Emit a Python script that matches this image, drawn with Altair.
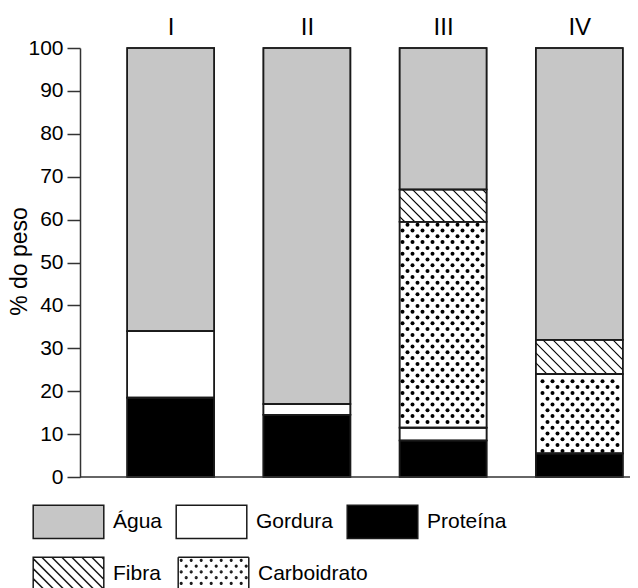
import altair as alt
import pandas as pd

# ---------------- data ----------------
categorias = ["I", "II", "III", "IV"]
nutrientes = ["Água", "Gordura", "Proteína", "Fibra", "Carboidrato"]
proteina = [18.5, 14.5, 8.5, 5.5]
gordura = [15.5, 2.5, 3.0, 0.0]
carboidrato = [0.0, 0.0, 48.0, 18.5]
fibra = [0.0, 0.0, 7.5, 8.0]
agua = [66.0, 83.0, 33.0, 68.0]
y_ticks = [0, 10, 20, 30, 40, 50, 60, 70, 80, 90, 100]

# ---------------- layout / style ----------------
W, H = 550, 429
STEP = 136.2            # px per category slot
OFF = 47.2 / STEP       # left gap of a bar inside its slot
BW = 87.0 / STEP        # bar width in slot units
XMAX = W / STEP
PXY = H / 100.0
FONT = "Liberation Sans, Arial, sans-serif"
INK = "#1a1a1a"
GRAY = "#c6c6c6"
DX, DY, DM = 10.0, 5.8, 1.8     # dot texture spacing (px)
SP = 10.0                        # hatch spacing (px)

stack_order = [("Proteína", proteina), ("Gordura", gordura),
               ("Carboidrato", carboidrato), ("Fibra", fibra), ("Água", agua)]
rows = []
for i, cat in enumerate(categorias):
    base = 0.0
    for nome, vals in stack_order:
        v = vals[i]
        if v > 0:
            rows.append(dict(cat=cat, Nutriente=nome, x0=i + OFF, x1=i + OFF + BW,
                             y0=base, y1=base + v))
        base += v
seg = pd.DataFrame(rows)

# dot texture for Carboidrato
dots = []
for r in seg[seg.Nutriente == "Carboidrato"].itertuples():
    X0, X1, Y0, Y1 = r.x0 * STEP, r.x1 * STEP, r.y0 * PXY, r.y1 * PXY
    for k in range(int(Y0 / DY) - 1, int(Y1 / DY) + 2):
        Y = k * DY + DY / 2
        if Y < Y0 + DM or Y > Y1 - DM:
            continue
        sh = DX / 2 if k % 2 else 0.0
        for j in range(int(X0 / DX) - 1, int(X1 / DX) + 2):
            X = j * DX + sh + 2.5
            if X0 + DM <= X <= X1 - DM:
                dots.append(dict(x=X / STEP, y=Y / PXY))
dots_df = pd.DataFrame(dots)

# hatch texture for Fibra ("\" lines: X + Yup = c)
lines = []
for r in seg[seg.Nutriente == "Fibra"].itertuples():
    X0, X1, Y0, Y1 = r.x0 * STEP, r.x1 * STEP, r.y0 * PXY, r.y1 * PXY
    for k in range(int((X0 + Y0) / SP) - 1, int((X1 + Y1) / SP) + 2):
        c = k * SP
        ya = max(Y0, c - X1)
        yb = min(Y1, c - X0)
        if yb - ya > 0.5:
            lines.append(dict(x=(c - ya) / STEP, y=ya / PXY, x2=(c - yb) / STEP, y2=yb / PXY))
lines_df = pd.DataFrame(lines)

# legend symbol paths (unit box [-1,1], y down)
LH = 33.3 / 70.6
U = 35.3  # px per path unit
RECT = f"M-1,{-LH:.4f}H1V{LH:.4f}H-1Z"
hp = RECT
for k in range(-30, 31):
    c = k * SP / U
    ya = max(-LH, -1 - c)
    yb = min(LH, 1 - c)
    if yb - ya > 0.01:
        hp += f"M{ya + c:.4f},{ya:.4f}L{yb + c:.4f},{yb:.4f}"
HATCH = hp
dp = (f"M-1,{-LH:.4f}L1,{-LH:.4f}M1,{-LH:.4f}L1,{LH:.4f}"
      f"M1,{LH:.4f}L-1,{LH:.4f}M-1,{LH:.4f}L-1,{-LH:.4f}")
rr = 0.8 / U
k = 0
yy = -LH + 3.0 / U
while yy < LH - 2.0 / U:
    xx = -1 + (3.0 + (DX / 2 if k % 2 else 0.0)) / U
    while xx < 1 - 2.0 / U:
        dp += f"M{xx - rr:.4f},{yy:.4f}a{rr:.4f},{rr:.4f} 0 1,0 {2 * rr:.4f},0a{rr:.4f},{rr:.4f} 0 1,0 {-2 * rr:.4f},0"
        xx += DX / U
    yy += DY / U
    k += 1
DOTS = dp

fill_range = [GRAY, "#ffffff", "#000000", "#ffffff", "#ffffff"]
padrao = ["Fibra", "Carboidrato"]
shape_range = [HATCH, DOTS]

centers = [i + OFF + BW / 2 for i in range(len(categorias))]
cat_js = "[" + ",".join(f"'{c}'" for c in categorias) + "]"

xscale = alt.Scale(domain=[0, XMAX], nice=False, zero=False)
yscale = alt.Scale(domain=[0, 100], nice=False)
fill_scale = alt.Scale(domain=nutrientes, range=fill_range)
stroke_scale1 = alt.Scale(domain=nutrientes, range=[INK] * len(nutrientes))
shape_scale = alt.Scale(domain=padrao, range=shape_range)
stroke_scale2 = alt.Scale(domain=padrao, range=[INK] * len(padrao))

x_axis = alt.Axis(orient="top", values=centers,
                  labelExpr=f"{cat_js}[round(datum.value - {OFF + BW / 2:.5f})]",
                  domain=False, ticks=False, grid=False, labelFont=FONT, labelFontSize=24,
                  labelPadding=9, labelColor="black", title=None)
y_axis = alt.Axis(values=y_ticks, tickSize=13, tickWidth=1.5, tickColor="#333333",
                  domainColor="#333333", domainWidth=1.5, labelFont=FONT, labelFontSize=21,
                  labelColor="black", labelPadding=4, grid=False, title="% do peso",
                  titleFont=FONT, titleFontSize=23, titleFontWeight="normal",
                  titleColor="black", titleX=-54, titleY=213, titleBaseline="alphabetic")

leg_row1 = alt.Legend(title=None, orient="none", legendX=-48, legendY=437,
                      direction="horizontal", values=nutrientes[:3], symbolType=RECT,
                      symbolSize=70.6 * 70.6, symbolStrokeWidth=1.5, symbolOpacity=1,
                      labelFont=FONT, labelFontSize=21, labelColor="black",
                      labelOffset=8, columnPadding=10)
leg_row2 = alt.Legend(title=None, orient="none", legendX=-48, legendY=489,
                      direction="horizontal",
                      symbolSize=70.6 * 70.6, symbolStrokeWidth=1.5, symbolOpacity=1,
                      labelFont=FONT, labelFontSize=21, labelColor="black",
                      labelOffset=8, columnPadding=14)

bars = alt.Chart(seg).mark_rect(strokeWidth=1.5).encode(
    x=alt.X("x0:Q", scale=xscale, axis=x_axis),
    x2="x1:Q",
    y=alt.Y("y0:Q", scale=yscale, axis=y_axis),
    y2="y1:Q",
    fill=alt.Fill("Nutriente:N", scale=fill_scale, legend=leg_row1),
    stroke=alt.Stroke("Nutriente:N", scale=stroke_scale1, legend=leg_row1),
)

dot_layer = alt.Chart(dots_df).mark_circle(size=16, opacity=1, color="black").encode(
    x="x:Q", y="y:Q")

hatch_layer = alt.Chart(lines_df).mark_rule(strokeWidth=1.1, color="black").encode(
    x="x:Q", x2="x2:Q", y="y:Q", y2="y2:Q")

outline = alt.Chart(seg).mark_rect(fill="transparent", stroke=INK, strokeWidth=1.6).encode(
    x="x0:Q", x2="x1:Q", y="y0:Q", y2="y1:Q")

base_line = alt.Chart(pd.DataFrame({"v": [0]})).mark_rule(color="#333333", strokeWidth=1.5).encode(
    y=alt.Y("v:Q"))

carrier = alt.Chart(pd.DataFrame({"Padrao": padrao})).mark_point(
    filled=True, fill="white", opacity=1, strokeWidth=1.5).encode(
    x=alt.value(-3000), y=alt.value(-3000),
    shape=alt.Shape("Padrao:N", scale=shape_scale, legend=leg_row2),
    stroke=alt.Stroke("Padrao:N", scale=stroke_scale2, legend=leg_row2),
)

chart = alt.layer(bars, dot_layer, hatch_layer, outline, base_line, carrier).resolve_scale(
    fill="independent", stroke="independent", shape="independent"
).properties(
    width=W, height=H,
    autosize=alt.AutoSizeParams(type="none"),
    padding={"left": 72, "top": 40, "right": 0, "bottom": 111},
).configure_view(stroke="transparent")

chart.save("out.html", embed_options={"renderer": "svg", "actions": False})
